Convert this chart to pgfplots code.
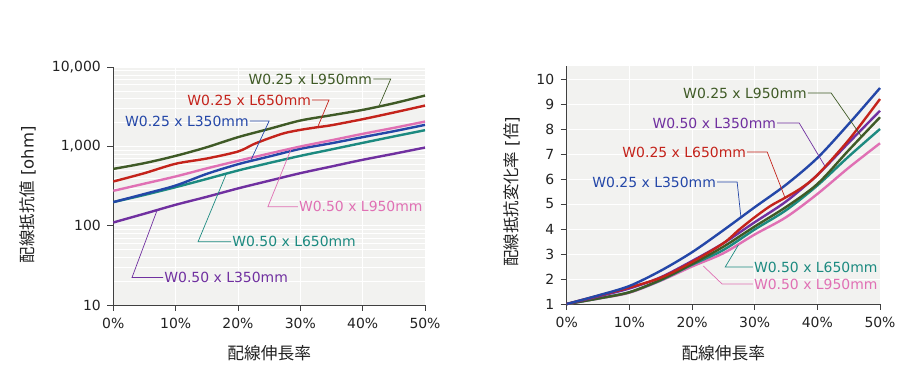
\documentclass[border=0pt]{standalone}
\usepackage{fontspec}
\setmainfont{DejaVu Sans}
\newfontfamily\cjk{Noto Sans CJK JP}
\usepackage{pgfplots}
\pgfplotsset{compat=1.18}
\definecolor{cgreen}{HTML}{3F5A26}
\definecolor{cred}{HTML}{C4231B}
\definecolor{cblue}{HTML}{2447A8}
\definecolor{cpink}{HTML}{E070B4}
\definecolor{cteal}{HTML}{1C8A80}
\definecolor{cpurple}{HTML}{7030A0}
\definecolor{bgcol}{HTML}{F2F2F0}
\definecolor{axcol}{HTML}{404040}
\definecolor{txtcol}{HTML}{222222}
\pgfplotsset{mystyle/.style={
  scale only axis, axis lines*=left,
  axis line style={draw=axcol,line width=0.8bp,-},
  tick align=outside, major tick length=6bp, minor tick length=0bp,
  tick style={draw=axcol,line width=0.8bp},
  axis background/.style={fill=bgcol},
  grid style={draw=white,line width=0.9bp},
  xmin=0,xmax=50, xtick={0,10,20,30,40,50},
  xticklabels={0\%,10\%,20\%,30\%,40\%,50\%},
  ticklabel style={font=\fontsize{14}{16}\selectfont, text=txtcol},
  xticklabel style={yshift=-4bp},
  yticklabel style={xshift=-3bp},
  clip=false,
  every axis plot/.append style={line width=2.4bp, smooth, no marks},
}}
\tikzset{lab/.style={font=\fontsize{14}{16}\selectfont, inner sep=1bp},
  lead/.style={line width=0.7bp}}
\begin{document}
\begin{tikzpicture}
% ---------------- left
\begin{axis}[mystyle,
  at={(113.3bp,85bp)}, anchor=south west,
  width=311.7bp, height=237.7bp,
  ymode=log, ymin=10, ymax=10000,
  ytick={10,100,1000,10000}, yticklabels={10,100,{1,000},{10,000}},
  xmajorgrids, ymajorgrids, yminorgrids,
]
\addplot[cpurple] coordinates {(0,110)(5,142)(10,184)(15,232)(20,296)(25,370)(30,461)(35,560)(40,680)(45,810)(50,971)};
\addplot[cteal] coordinates {(0,199)(5,245)(10,307)(15,390)(20,498)(25,620)(30,762)(35,920)(40,1112)(45,1340)(50,1607)};
\addplot[cblue] coordinates {(0,199)(5,252)(10,322)(15,452)(20,598)(25,748)(30,935)(35,1100)(40,1313)(45,1560)(50,1876)};
\addplot[cpink] coordinates {(0,276)(5,340)(10,419)(15,530)(20,660)(25,815)(30,1000)(35,1200)(40,1445)(45,1720)(50,2065)};
\addplot[cred] coordinates {(0,362)(5,461)(10,606)(15,706)(20,865)(22.5,1069)(25,1273)(27.5,1480)(30,1622)(32.5,1742)(35,1858)(40,2213)(45,2687)(50,3288)};
\addplot[cgreen] coordinates {(0,522)(5,617)(10,762)(15,980)(20,1312)(25,1670)(30,2128)(35,2483)(40,2900)(45,3516)(50,4400)};
% labels
\node[lab,text=cgreen,anchor=east] at (axis cs:41.7,7120) {W0.25 x L950mm};
\draw[lead,cgreen] (axis cs:41.7,7120) -- (axis cs:44.5,7120) -- (axis cs:42.7,3350);
\node[lab,text=cred,anchor=east] at (axis cs:31.9,3865) {W0.25 x L650mm};
\draw[lead,cred] (axis cs:31.9,3865) -- (axis cs:34.6,3865) -- (axis cs:32.8,1770);
\node[lab,text=cblue,anchor=east] at (axis cs:21.9,2100) {W0.25 x L350mm};
\draw[lead,cblue] (axis cs:21.9,2100) -- (axis cs:25.0,2100) -- (axis cs:22.1,680);
\node[lab,text=cpink,anchor=west] at (axis cs:29.6,174) {W0.50 x L950mm};
\draw[lead,cpink] (axis cs:29.6,174) -- (axis cs:24.8,174) -- (axis cs:28.6,963);
\node[lab,text=cteal,anchor=west] at (axis cs:18.9,63) {W0.50 x L650mm};
\draw[lead,cteal] (axis cs:18.9,63) -- (axis cs:13.6,63) -- (axis cs:18.2,467);
\node[lab,text=cpurple,anchor=west] at (axis cs:8.0,22.2) {W0.50 x L350mm};
\draw[lead,cpurple] (axis cs:8.0,22.2) -- (axis cs:3.0,22.2) -- (axis cs:7.0,155);
\node[rotate=90,font=\fontsize{16.5}{18}\selectfont,text=txtcol] at (rel axis cs:-0.274,0.463) {{\cjk 配線抵抗値} [ohm]};
\node[font=\cjk\fontsize{16.8}{18}\selectfont,text=txtcol] at (rel axis cs:0.5,-0.202) {配線伸長率};
\end{axis}
% ---------------- right
\begin{axis}[mystyle,
  at={(566.7bp,86bp)}, anchor=south west,
  width=313.3bp, height=238bp,
  ymin=1, ymax=10.52,
  ytick={1,2,...,10}, yticklabels={1,2,3,4,5,6,7,8,9,10},
  xmajorgrids, ymajorgrids,
]
\addplot[cpink] coordinates {(0,1)(5,1.21)(10,1.45)(15,1.93)(20,2.5)(25,3.03)(30,3.78)(35,4.47)(40,5.4)(45,6.45)(50,7.43)};
\addplot[cteal] coordinates {(0,1)(5,1.22)(10,1.47)(15,1.95)(20,2.57)(25,3.16)(30,3.98)(35,4.75)(40,5.74)(45,6.9)(50,8.0)};
\addplot[cgreen] coordinates {(0,1)(5,1.22)(10,1.47)(15,1.97)(20,2.6)(25,3.29)(30,4.1)(35,4.88)(40,5.8)(45,7.15)(50,8.47)};
\addplot[cpurple] coordinates {(0,1)(5,1.3)(10,1.62)(15,2.07)(20,2.72)(25,3.43)(30,4.27)(35,5.1)(40,6.16)(45,7.45)(50,8.73)};
\addplot[cred] coordinates {(0,1)(5,1.33)(10,1.66)(15,2.05)(20,2.68)(25,3.43)(27.5,3.97)(30,4.47)(32.5,4.92)(35,5.27)(37.5,5.65)(40,6.16)(45,7.56)(50,9.2)};
\addplot[cblue] coordinates {(0,1)(5,1.34)(10,1.72)(15,2.33)(20,3.07)(25,3.95)(30,4.87)(35,5.77)(40,6.84)(45,8.2)(50,9.64)};
\node[lab,text=cgreen,anchor=east] at (axis cs:38.5,9.44) {W0.25 x L950mm};
\draw[lead,cgreen] (axis cs:38.5,9.44) -- (axis cs:42.2,9.44) -- (axis cs:47.1,7.68);
\node[lab,text=cpurple,anchor=east] at (axis cs:33.6,8.24) {W0.50 x L350mm};
\draw[lead,cpurple] (axis cs:33.6,8.24) -- (axis cs:37.1,8.24) -- (axis cs:41.2,6.52);
\node[lab,text=cred,anchor=east] at (axis cs:28.8,7.08) {W0.25 x L650mm};
\draw[lead,cred] (axis cs:28.8,7.08) -- (axis cs:32.0,7.08) -- (axis cs:34.8,5.28);
\node[lab,text=cblue,anchor=east] at (axis cs:24.0,5.88) {W0.25 x L350mm};
\draw[lead,cblue] (axis cs:24.0,5.88) -- (axis cs:27.2,5.88) -- (axis cs:27.8,4.48);
\node[lab,text=cteal,anchor=west] at (axis cs:29.7,2.48) {W0.50 x L650mm};
\draw[lead,cteal] (axis cs:29.7,2.48) -- (axis cs:25.3,2.48) -- (axis cs:27.4,3.36);
\node[lab,text=cpink,anchor=west] at (axis cs:29.7,1.8) {W0.50 x L950mm};
\draw[lead,cpink] (axis cs:29.7,1.8) -- (axis cs:24.8,1.8) -- (axis cs:21.8,2.52);
\node[rotate=90,font=\fontsize{16.5}{18}\selectfont,text=txtcol] at (rel axis cs:-0.175,0.471) {{\cjk 配線抵抗変化率} [{\cjk 倍}]};
\node[font=\cjk\fontsize{16.8}{18}\selectfont,text=txtcol] at (rel axis cs:0.5,-0.206) {配線伸長率};
\end{axis}
\pgfresetboundingbox
\path (0,0) rectangle (923bp,390bp);
\end{tikzpicture}
\end{document}
